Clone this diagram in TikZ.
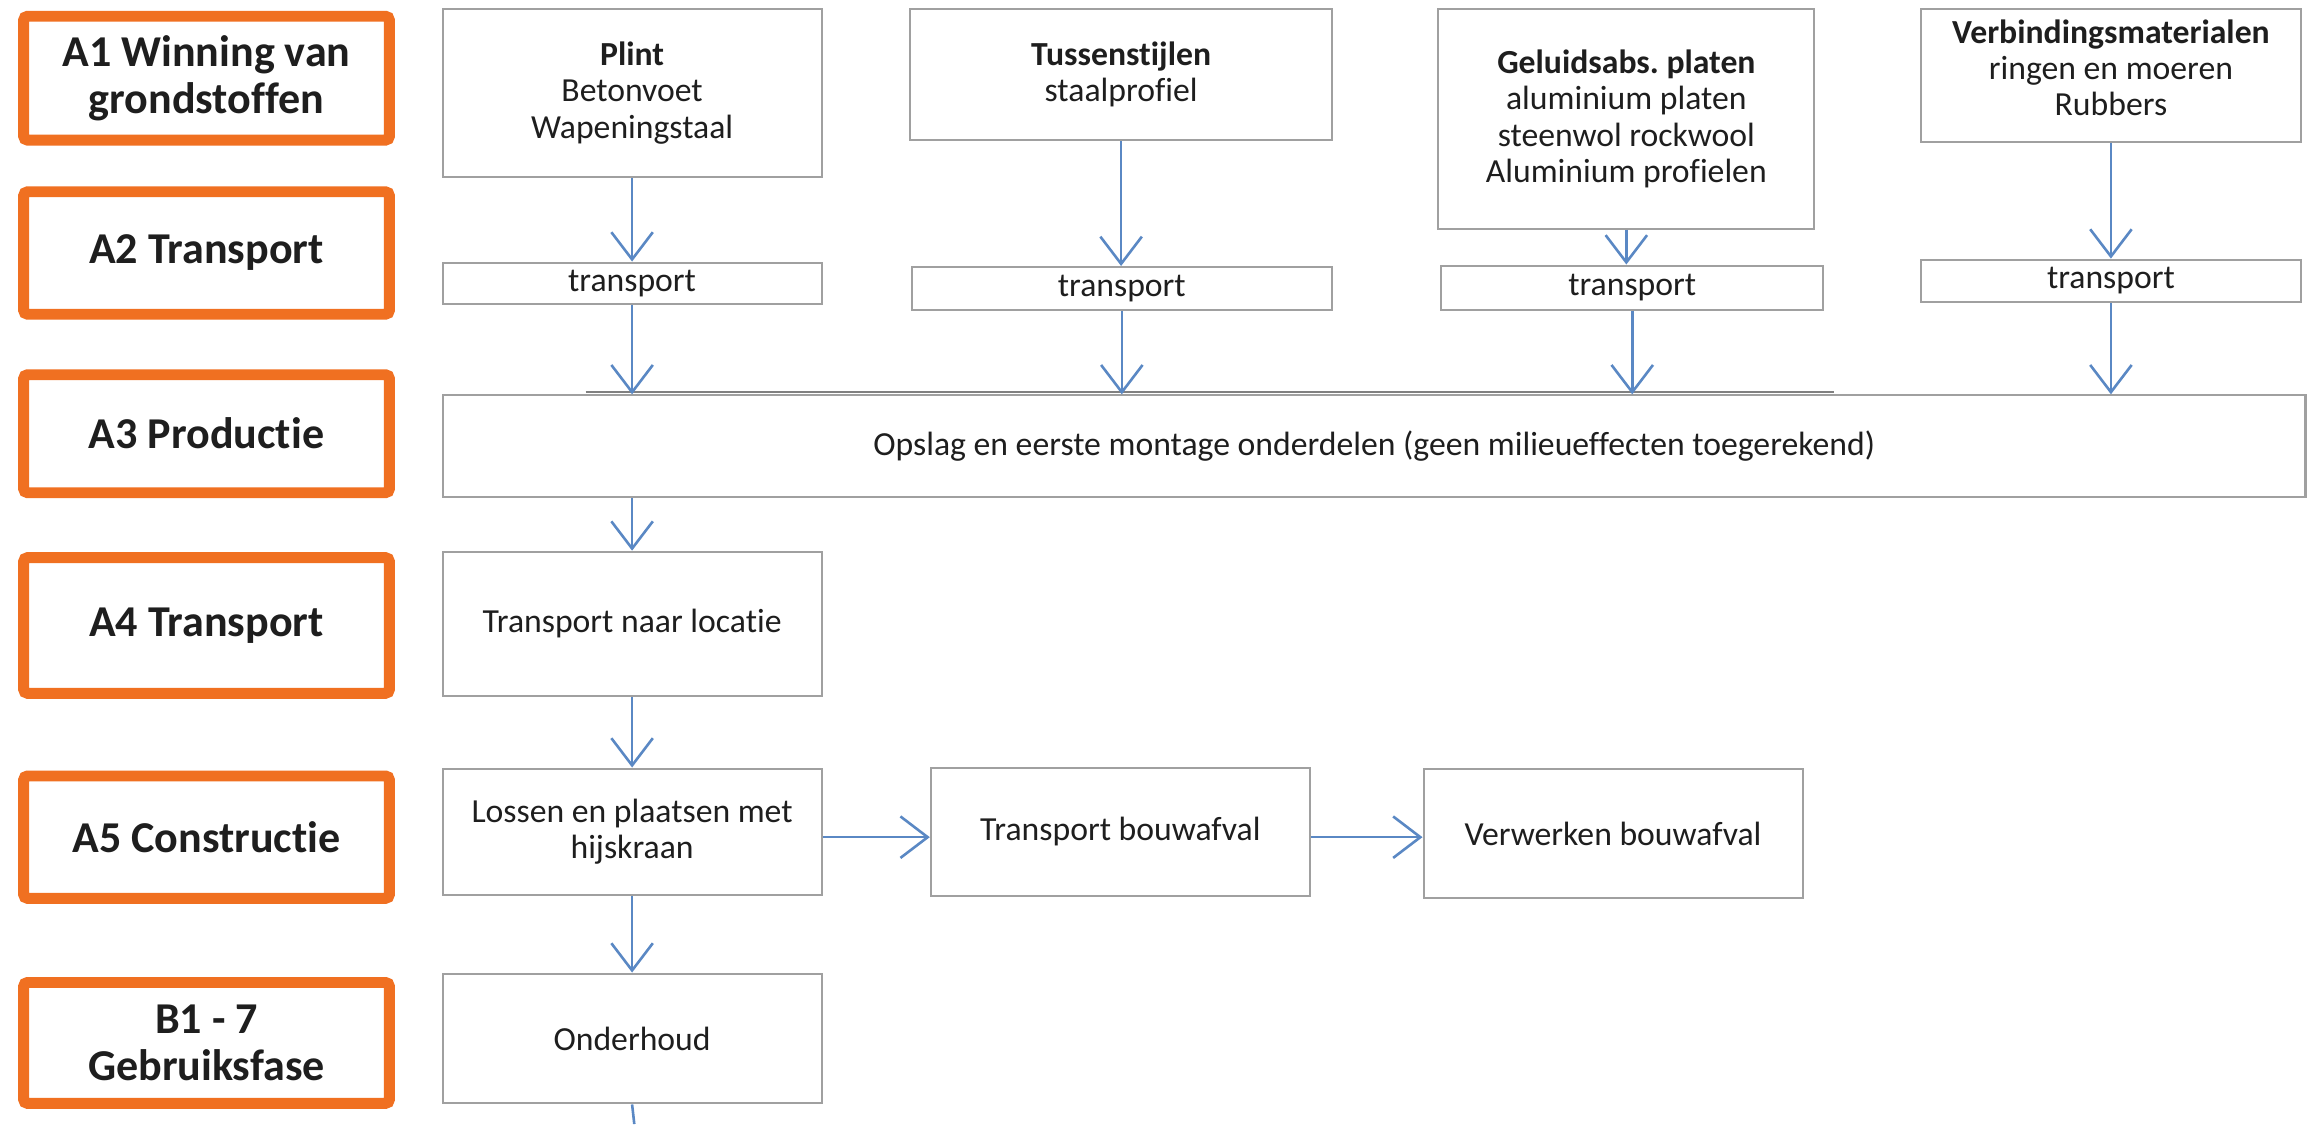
\documentclass[tikz,border=0pt]{standalone}
\usepackage{fontspec}
\setmainfont{Carlito}[RawFeature={-liga;-clig;-calt;-dlig}]
\frenchspacing
\usetikzlibrary{arrows.meta}
\definecolor{orng}{HTML}{F07021}
\definecolor{arrblue}{HTML}{5A88C4}
\definecolor{boxgray}{HTML}{A0A0A0}
\definecolor{txt}{HTML}{1E1E1E}
\begin{document}
\begin{tikzpicture}[x=0.02cm,y=-0.02cm,
  phase/.style={draw=orng,line width=4.2pt,rounded corners=1.5pt,inner sep=0pt,align=center,text=txt,
    font=\fontsize{17}{18}\selectfont\bfseries,minimum width=4.96cm},
  proc/.style={draw=boxgray,line width=0.8pt,inner sep=0pt,align=center,text=txt,
    font=\fontsize{13}{14}\selectfont},
  lbl/.style={inner sep=0pt,align=center,text=txt,font=\fontsize{13}{14}\selectfont},
  arr/.style={draw=arrblue,line width=1pt,-{Straight Barb[length=10.5pt,width=16pt]}},
  seam/.style={draw=boxgray!80!black,line width=0.8pt},
  plain/.style={draw=arrblue,line width=1pt},
]
\useasboundingbox (0,0) rectangle (1568,762);
\fill[white] (0,0) rectangle (1568,762);

% phase boxes
\node[phase,minimum height=1.68cm] (a1) at (140,53) {A1 Winning van\\grondstoffen};
\node[phase,minimum height=1.66cm] (a2) at (140,171.5) {A2 Transport};
\node[phase,minimum height=1.60cm] (a3) at (140,294) {A3 Productie};
\node[phase,minimum height=1.84cm] (a4) at (140,424) {A4 Transport};
\node[phase,minimum height=1.66cm] (a5) at (140,567.5) {A5 Constructie};
\node[phase,minimum height=1.64cm] (b1) at (140,707) {B1 - 7\\Gebruiksfase};

% raw material boxes
\node[proc,minimum width=5.14cm,minimum height=2.28cm] (plint) at (428.5,63)
  {\textbf{Plint}\\Betonvoet\\Wapeningstaal};
\node[proc,minimum width=5.72cm,minimum height=1.78cm] (tus) at (760,50.5)
  {\textbf{Tussenstijlen}\\staalprofiel};
\node[proc,minimum width=5.10cm,minimum height=2.98cm] (gel) at (1102.5,80.5)
  {\textbf{Geluidsabs. platen}\\aluminium platen\\steenwol rockwool\\Aluminium profielen};
\node[proc,minimum width=5.16cm,minimum height=1.80cm] (ver) at (1431,51) {};
\node[lbl] (vertext) at (1431,46) {\textbf{Verbindingsmaterialen}\\ringen en moeren\\Rubbers};

% transport boxes
\node[proc,minimum width=5.14cm,minimum height=0.56cm] (t1) at (428.5,192) {transport};
\node[proc,minimum width=5.70cm,minimum height=0.58cm] (t2) at (760.5,195.5) {transport};
\node[proc,minimum width=5.18cm,minimum height=0.60cm] (t3) at (1106.5,195) {transport};
\node[proc,minimum width=5.16cm,minimum height=0.58cm] (t4) at (1431,190.5) {transport};

% storage
\node[proc,minimum width=25.26cm,minimum height=1.38cm] (opslag) at (931.5,302.5)
  {Opslag en eerste montage onderdelen (geen milieueffecten toegerekend)};
\coordinate (s1) at (397,266);
\coordinate (s2) at (1243,266);
\draw[seam] (s1) -- (s2);

% lower chain
\node[proc,minimum width=5.14cm,minimum height=1.96cm] (trloc) at (428.5,423) {Transport naar locatie};
\node[proc,minimum width=5.14cm,minimum height=1.72cm] (lossen) at (428.5,564) {Lossen en plaatsen met\\hijskraan};
\node[proc,minimum width=5.14cm,minimum height=1.74cm] (tbouw) at (759.5,564) {Transport bouwafval};
\node[proc,minimum width=5.14cm,minimum height=1.76cm] (vbouw) at (1093.5,565) {Verwerken bouwafval};
\node[proc,minimum width=5.14cm,minimum height=1.76cm] (onder) at (428.5,704) {Onderhoud};
\coordinate (bottom) at (430,762);

% arrows
\draw[arr] (plint.south) -- (t1.north);
\draw[arr] (tus.south) -- (tus.south |- t2.north);
\draw[arr] (gel.south) -- (gel.south |- t3.north);
\draw[arr] (ver.south) -- (t4.north);
\draw[arr] (t1.south) -- (t1.south |- opslag.north);
\draw[arr] (t2.south) -- (t2.south |- opslag.north);
\draw[arr] (t3.south) -- (t3.south |- opslag.north);
\draw[arr] (t4.south) -- (t4.south |- opslag.north);
\draw[arr] (trloc.north |- opslag.south) -- (trloc.north);
\draw[arr] (trloc.south) -- (lossen.north);
\draw[arr] ([yshift=-2pt]lossen.east) -- ([yshift=-2pt]lossen.east -| tbouw.west);
\draw[arr] ([yshift=-2pt]tbouw.east) -- ([yshift=-2pt]tbouw.east -| vbouw.west);
\draw[arr] (lossen.south) -- (onder.north);
\draw[plain] (onder.south) -- (bottom);
\end{tikzpicture}
\end{document}
